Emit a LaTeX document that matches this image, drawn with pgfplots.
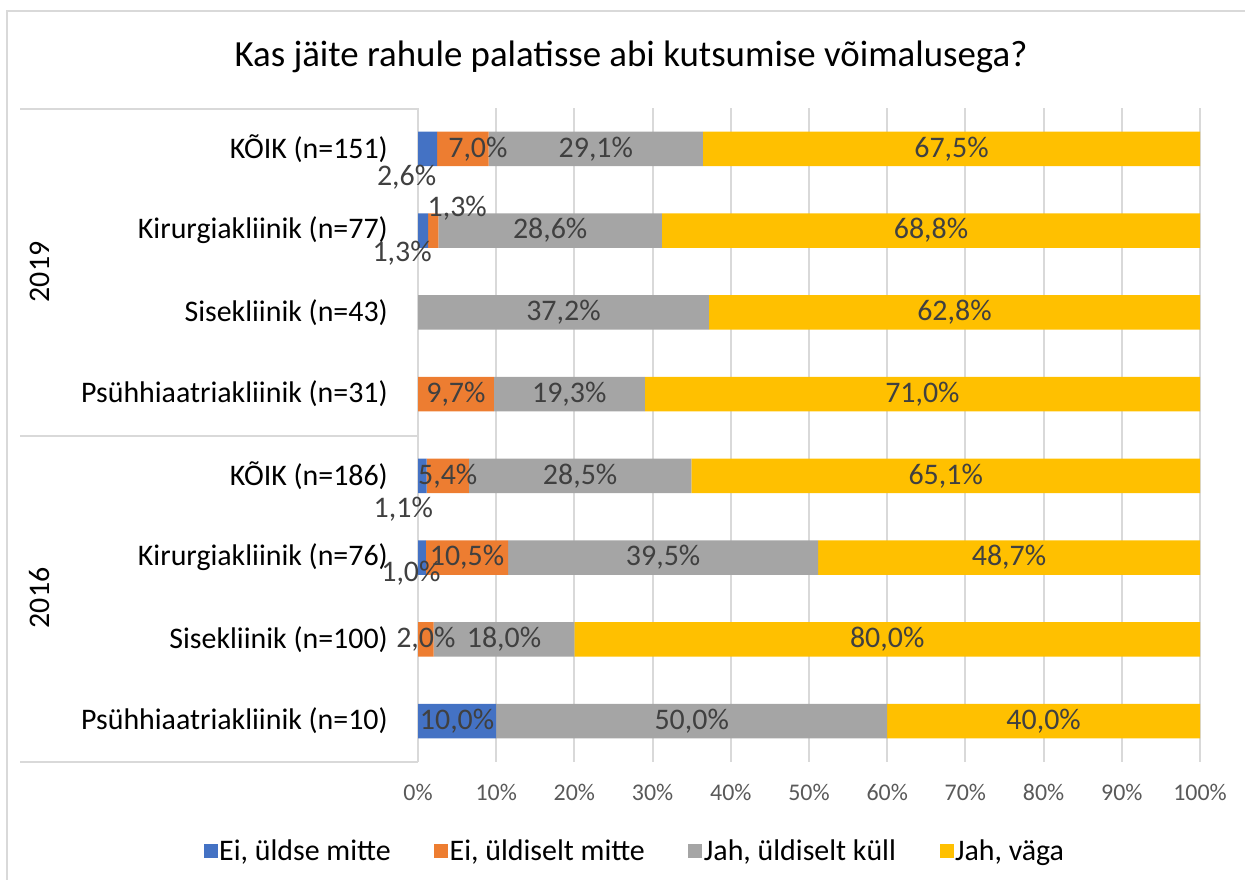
\documentclass[border=0pt]{standalone}
\usepackage{fontspec}
\setmainfont{Carlito}
\usepackage{pgfplots}
\usepackage{pgfplotstable}
\pgfplotsset{compat=1.18}

\definecolor{cBlue}{HTML}{4472C4}
\definecolor{cOrange}{HTML}{ED7D31}
\definecolor{cGrey}{HTML}{A5A5A5}
\definecolor{cGold}{HTML}{FFC000}
\definecolor{gridc}{HTML}{D9D9D9}
\definecolor{labc}{HTML}{404040}
\definecolor{tickc}{HTML}{595959}

% Answer shares per department (raw percentages) and label offsets (bp) for the small segments
\pgfplotstableread{
row a    b    c    d    adx ady bdx bdy
1   2.6  7.0  29.1 67.5 -21 -28  15   0
2   1.3  1.3  28.6 68.8 -21 -23  24  22
3   0    0    37.2 62.8   0   0   0   0
4   0    9.7  19.3 71.0   0   0   0   0
5   1.1  5.4  28.5 65.1 -19 -33   0   0
6   1.0  10.5 39.5 48.7 -11 -16   0   0
7   0    2.0  18.0 80.0   0   0   0   0
8   10.0 0    50.0 40.0   0   0   0   0
}\results

% 100% stacking: each row is scaled to its own total
\pgfplotstablecreatecol[create col/expr={\thisrow{a}+\thisrow{b}+\thisrow{c}+\thisrow{d}}]{total}\results
\pgfplotstablecreatecol[create col/expr={100*\thisrow{a}/\thisrow{total}}]{pa}\results
\pgfplotstablecreatecol[create col/expr={100*\thisrow{b}/\thisrow{total}}]{pb}\results
\pgfplotstablecreatecol[create col/expr={100*\thisrow{c}/\thisrow{total}}]{pc}\results
\pgfplotstablecreatecol[create col/expr={100*\thisrow{d}/\thisrow{total}}]{pd}\results
% segment midpoints, where the value labels sit
\pgfplotstablecreatecol[create col/expr={\thisrow{pa}/2}]{ma}\results
\pgfplotstablecreatecol[create col/expr={\thisrow{pa}+\thisrow{pb}/2}]{mb}\results
\pgfplotstablecreatecol[create col/expr={\thisrow{pa}+\thisrow{pb}+\thisrow{pc}/2}]{mc}\results
\pgfplotstablecreatecol[create col/expr={\thisrow{pa}+\thisrow{pb}+\thisrow{pc}+\thisrow{pd}/2}]{md}\results

\newcommand\fs[1]{\fontsize{#1}{#1}\selectfont}

\pgfplotsset{
  /pgf/number format/assume math mode=true,
  frame/.style={
    at={(418bp,118bp)}, anchor=south west,
    width=782bp, height=654bp, scale only axis,
    xmin=0, xmax=100, ymin=0.5, ymax=8.5, y dir=reverse,
  },
  vlabel/.style={
    draw=none, mark=none,
    point meta=\thisrow{#1},
    x filter/.expression={\thisrow{#1}>0 ? x : nan},
    unbounded coords=discard,
    nodes near coords={\pgfmathprintnumber[fixed,fixed zerofill,precision=1,use comma,assume math mode=true]{\pgfplotspointmeta}\%},
    every node near coord/.style={anchor=center, inner sep=0pt, font=\fs{30}, text=labc},
  },
}

\begin{document}
\begin{tikzpicture}
\path[use as bounding box] (0,0) rectangle (1245bp,880bp);

% chart frame
\draw[gridc, line width=1.5bp] (7bp,0) -- (7bp,869bp) -- (1245bp,869bp);

\node[text=black, font=\fs{37}] at (631bp,823bp) {Kas jäite rahule palatisse abi kutsumise võimalusega?};

% year grouping of the categories
\draw[gridc, line width=1.5bp] (20bp,771bp) -- (418bp,771bp);
\draw[gridc, line width=1.5bp] (20bp,444bp) -- (418bp,444bp);
\draw[gridc, line width=1.5bp] (20bp,118bp) -- (418bp,118bp);
\node[rotate=90, font=\fs{30}, text=black] at (40bp,608bp) {2019};
\node[rotate=90, font=\fs{30}, text=black] at (40bp,282bp) {2016};

\begin{axis}[
  frame,
  xbar stacked, bar width=0.42, bar shift=0pt,
  xtick={0,10,...,100},
  xticklabel={\pgfmathprintnumber[assume math mode=true]{\tick}\%},
  xticklabel style={font=\fs{24}, text=tickc, anchor=north, inner sep=0pt, yshift=-22bp},
  ytick={1,...,8},
  yticklabels={{KÕIK (n=151)},{Kirurgiakliinik (n=77)},{Sisekliinik (n=43)},{Psühhiaatriakliinik (n=31)},
               {KÕIK (n=186)},{Kirurgiakliinik (n=76)},{Sisekliinik (n=100)},{Psühhiaatriakliinik (n=10)}},
  yticklabel style={font=\fs{30}, text=black, anchor=east, inner sep=0pt, xshift=-30bp},
  major tick length=0pt,
  xmajorgrids, grid style={gridc, line width=2bp},
  axis x line*=bottom, x axis line style={draw=none},
  axis y line*=left, y axis line style={gridc, line width=1.5bp, -},
  legend columns=4,
  legend style={at={(0.277,-0.136)}, anchor=center, draw=none, fill=none,
    font=\fs{30}, text=black,
    nodes={inner sep=1.5bp},
    /tikz/every even column/.append style={column sep=42bp}},
  legend image code/.code={\fill[#1] (0bp,-7bp) rectangle (14bp,7bp);},
]
\addplot[fill=cBlue, draw=none] table[x=pa, y=row] {\results};
\addplot[fill=cOrange, draw=none] table[x=pb, y=row] {\results};
\addplot[fill=cGrey, draw=none] table[x=pc, y=row] {\results};
\addplot[fill=cGold, draw=none] table[x=pd, y=row] {\results};
\legend{Ei{,} üldse mitte, Ei{,} üldiselt mitte, Jah{,} üldiselt küll, Jah{,} väga}
\end{axis}

% value labels
\begin{axis}[frame, hide axis]
\addplot[vlabel=a,
  visualization depends on={\thisrow{adx} \as \ldx},
  visualization depends on={\thisrow{ady} \as \ldy},
  every node near coord/.append style={xshift=\ldx bp, yshift=\ldy bp}]
  table[x=ma, y=row] {\results};
\addplot[vlabel=b,
  visualization depends on={\thisrow{bdx} \as \ldx},
  visualization depends on={\thisrow{bdy} \as \ldy},
  every node near coord/.append style={xshift=\ldx bp, yshift=\ldy bp}]
  table[x=mb, y=row] {\results};
\addplot[vlabel=c] table[x=mc, y=row] {\results};
\addplot[vlabel=d] table[x=md, y=row] {\results};
\end{axis}
\end{tikzpicture}
\end{document}
